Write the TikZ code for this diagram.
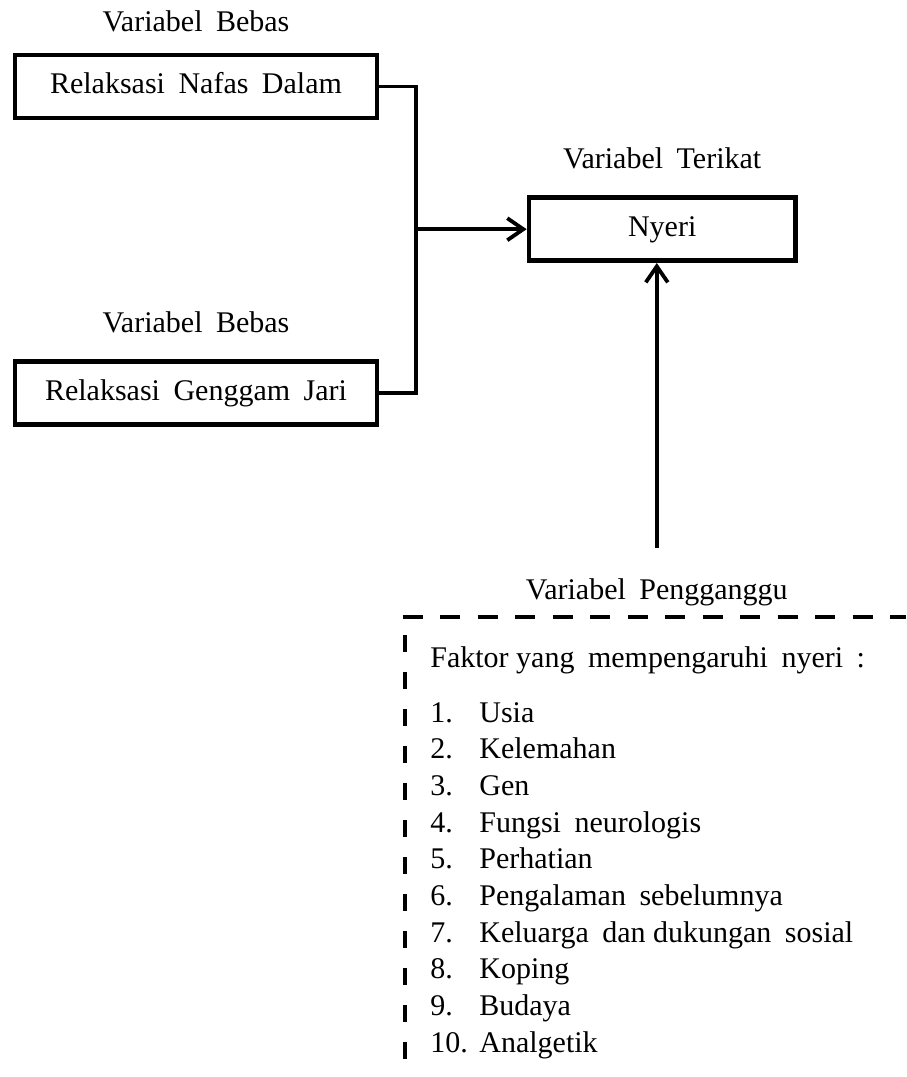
\documentclass[tikz,border=0pt]{standalone}
\usepackage{fontspec}
\setmainfont[WordSpace=1.8]{Liberation Serif}
\usetikzlibrary{arrows.meta, positioning}

\begin{document}
\begin{tikzpicture}[on grid, font=\fontsize{15pt}{18.35pt}\selectfont,
    varbox/.style = {draw, line width=2.3pt, minimum height=31.5pt, inner sep=0pt,
                     text height=0.7em, text depth=0pt},
    varlabel/.style = {inner sep=0pt, text height=0.7em, text depth=0pt},
    link/.style = {line width=1.9pt},
    linkarrow/.style = {link, -{Straight Barb[length=8pt, width=11pt]}},
    dashline/.style = {line width=2.4pt}]
  \useasboundingbox (0,0) rectangle (453pt,-538.5pt);
  \coordinate (edge) at (453pt,-538.5pt);

  % variabel bebas dan terikat
  \node[varbox, minimum width=181pt] (nafas) at (98pt,-43.25pt) {Relaksasi Nafas Dalam};
  \node[varbox, minimum width=181pt] (genggam) [below=153.25pt of nafas] {Relaksasi Genggam Jari};
  \node[varbox, minimum width=133.25pt] (nyeri) at (331.1pt,-114.6pt) {Nyeri};
  \node[varlabel] (bebas1) [above=31pt of nafas] {Variabel Bebas};
  \node[varlabel] (bebas2) [above=34pt of genggam] {Variabel Bebas};
  \node[varlabel] (terikat) [above=34pt of nyeri] {Variabel Terikat};

  % variabel pengganggu
  \coordinate (pg) at (328.4pt,-274.2pt);
  \node[varlabel] (pengganggu) [below=18.25pt of pg] {Variabel Pengganggu};
  \coordinate (corner) at (202.5pt,-308.5pt);
  \node[anchor=base west, inner sep=0pt] (faktor) at (215pt,-333.5pt) {%
    \begin{tabular}[t]{@{}p{24.5pt}@{}l@{}}
      \multicolumn{2}{@{}l@{}}{Faktor\hspace{-0.2em} yang mempengaruhi nyeri :}\\[9.15pt]
      1. & Usia\\
      2. & Kelemahan\\
      3. & Gen\\
      4. & Fungsi neurologis\\
      5. & Perhatian\\
      6. & Pengalaman sebelumnya\\
      7. & Keluarga dan\hspace{-0.2em} dukungan sosial\\
      8. & Koping\\
      9. & Budaya\\
      10. & Analgetik
    \end{tabular}};

  % garis
  \coordinate (jn) at ([xshift=18.5pt]nafas.east);
  \draw[link] (nafas.east) -- (jn) |- (genggam.east);
  \draw[linkarrow] (jn |- nyeri.west) -- (nyeri.west);
  \draw[linkarrow] (pg) -- (pg |- nyeri.south);
  \draw[dashline, dash pattern=on 10pt off 8.75pt] ([xshift=-1.2pt]corner) -- (corner -| edge);
  \draw[dashline, dash pattern=on 8.5pt off 10pt, dash phase=9.5pt] (corner) -- (corner |- edge);
\end{tikzpicture}
\end{document}
